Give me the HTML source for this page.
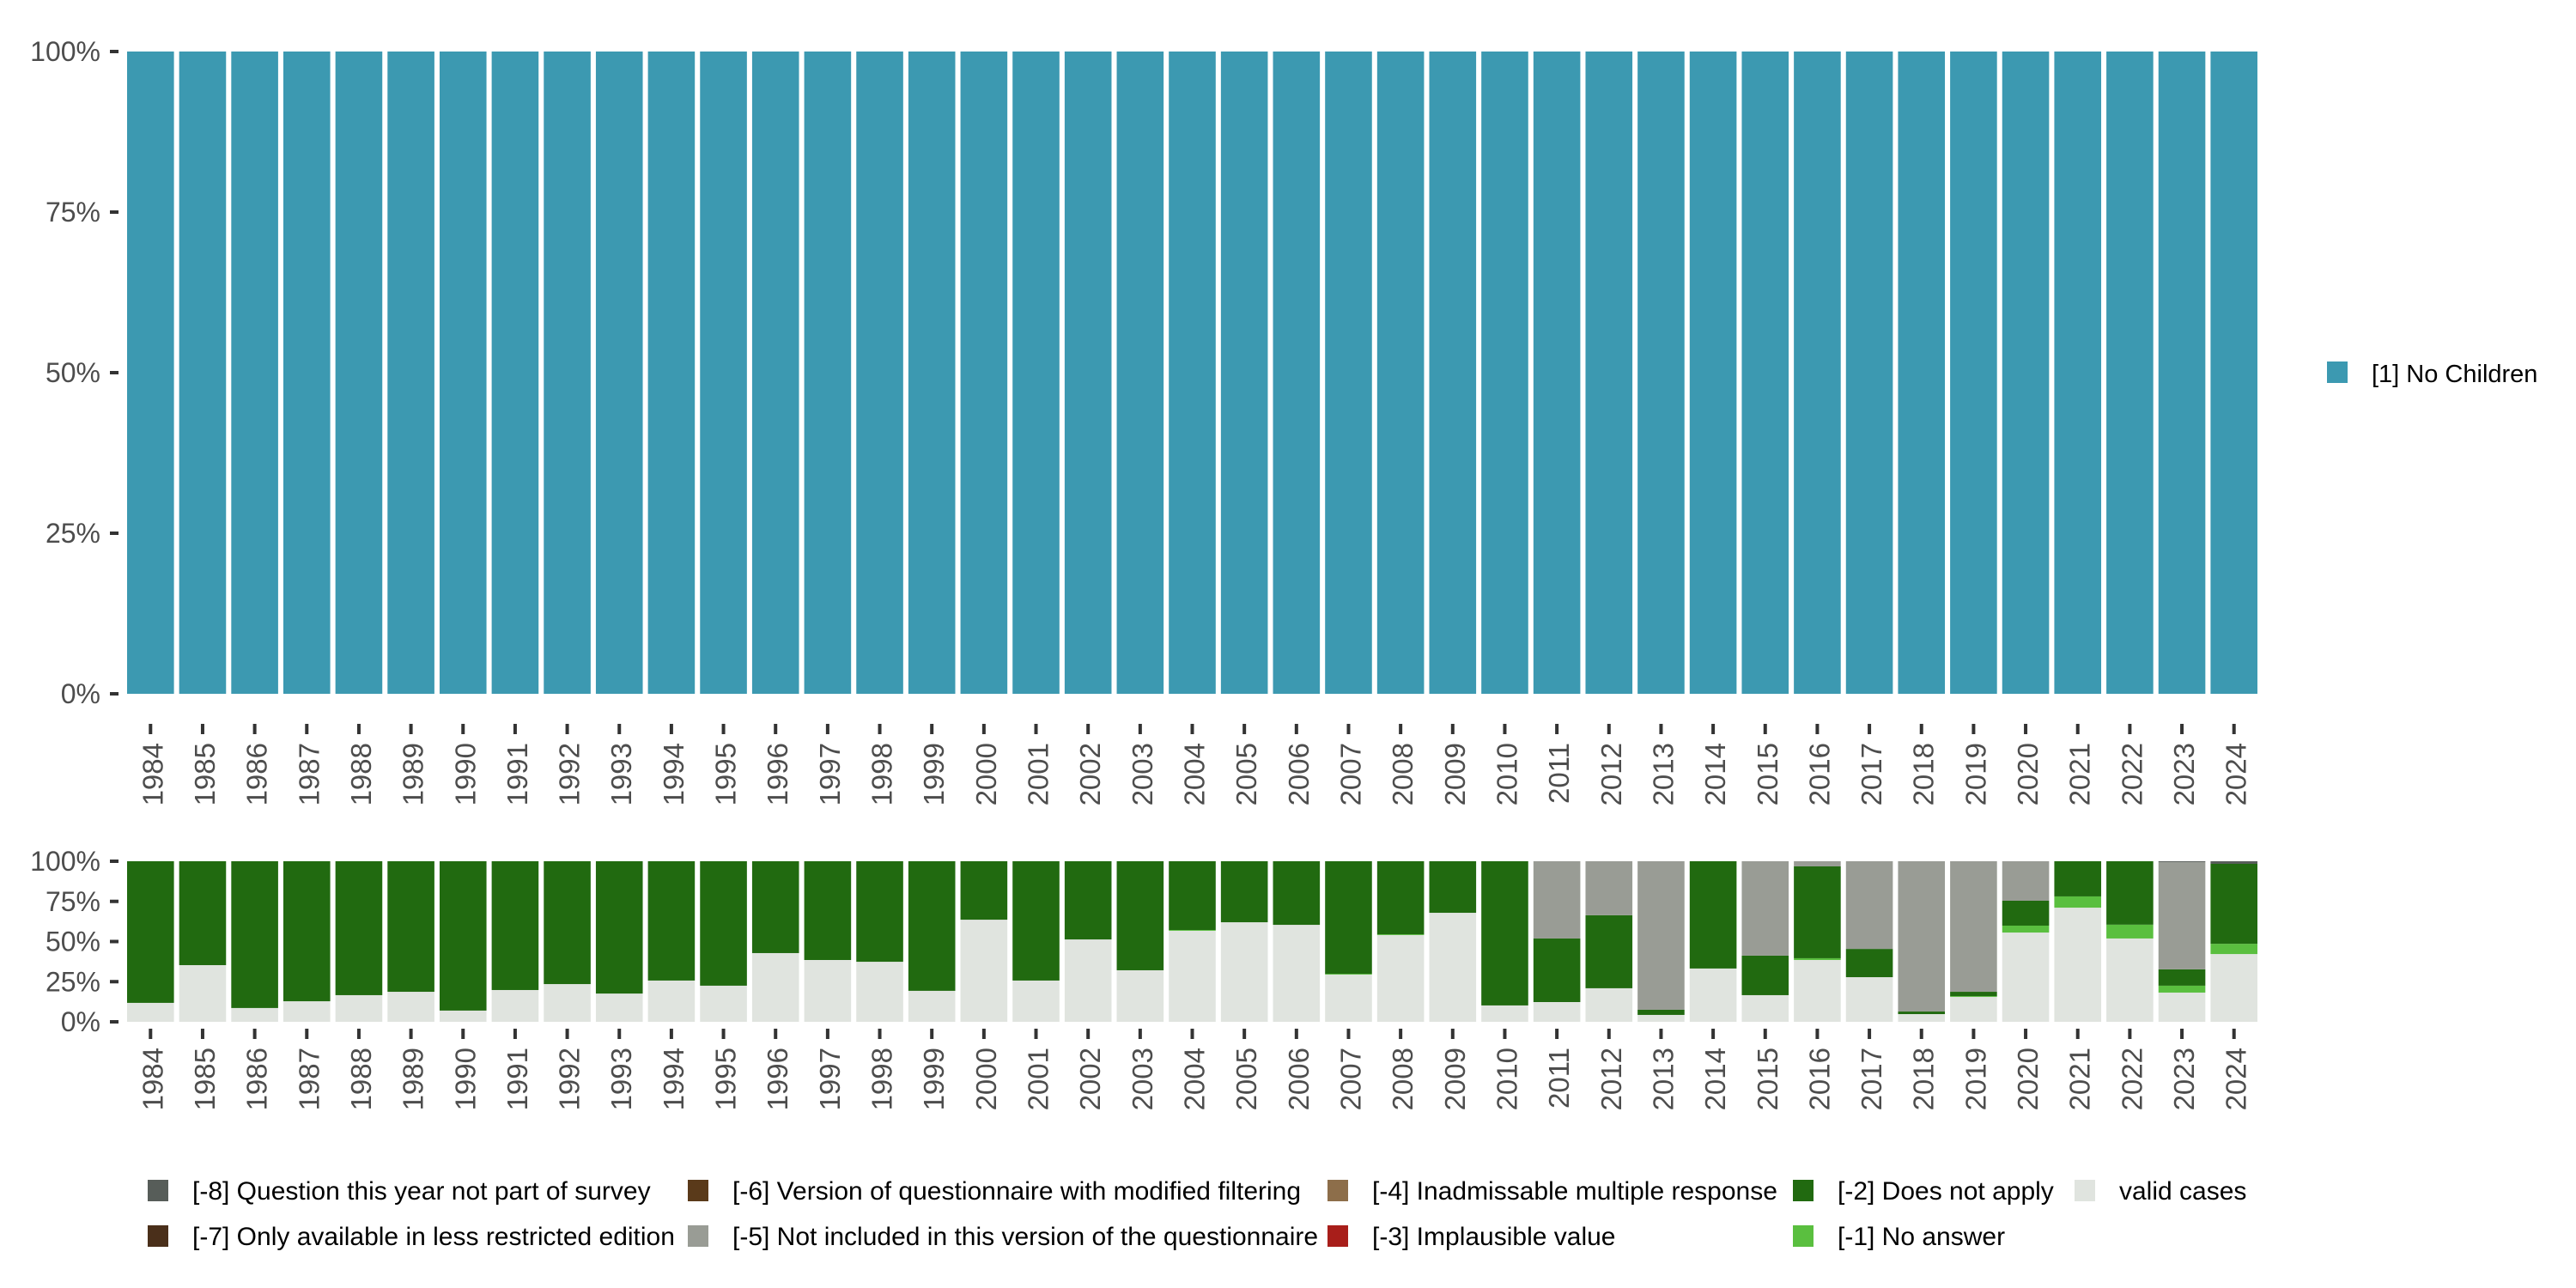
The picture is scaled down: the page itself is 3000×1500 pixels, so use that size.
<!DOCTYPE html>
<html><head><meta charset="utf-8"><style>
html,body{margin:0;padding:0;background:#fff;}
svg{display:block;font-family:"Liberation Sans",sans-serif;}
</style></head><body>
<svg id="chart" width="3000" height="1500" viewBox="0 0 3000 1500" xmlns="http://www.w3.org/2000/svg">
<g id="top"></g>
<g id="bot"></g>
<g>
<rect x="2710" y="421" width="24" height="25" fill="#3c99b1"/>
<text x="2762" y="445" font-size="29" fill="#000">[1] No Children</text>
</g>
<g id="legend"></g>
</svg>
<script>
const years = [1984,1985,1986,1987,1988,1989,1990,1991,1992,1993,1994,1995,1996,1997,1998,1999,2000,2001,2002,2003,2004,2005,2006,2007,2008,2009,2010,2011,2012,2013,2014,2015,2016,2017,2018,2019,2020,2021,2022,2023,2024];
const noChildren = [1,1,1,1,1,1,1,1,1,1,1,1,1,1,1,1,1,1,1,1,1,1,1,1,1,1,1,1,1,1,1,1,1,1,1,1,1,1,1,1,1];
const validCases = [0.118,0.353,0.086,0.128,0.166,0.187,0.07,0.198,0.235,0.176,0.257,0.225,0.428,0.385,0.374,0.193,0.636,0.257,0.513,0.321,0.567,0.620,0.604,0.294,0.540,0.679,0.102,0.123,0.209,0.043,0.332,0.166,0.385,0.278,0.048,0.155,0.556,0.711,0.519,0.182,0.422];
const noAnswer = [0,0,0,0,0,0,0,0,0,0,0,0,0,0,0,0,0,0,0,0,0.005,0,0,0.005,0.005,0,0,0,0,0,0,0,0.011,0,0,0.005,0.043,0.070,0.086,0.043,0.064];
const doesNotApply = [0.882,0.647,0.914,0.872,0.834,0.813,0.930,0.802,0.765,0.824,0.743,0.775,0.572,0.615,0.626,0.807,0.364,0.743,0.487,0.679,0.428,0.380,0.396,0.701,0.455,0.321,0.898,0.396,0.455,0.032,0.668,0.246,0.572,0.176,0.016,0.027,0.155,0.219,0.395,0.102,0.498];
const notIncluded = [0,0,0,0,0,0,0,0,0,0,0,0,0,0,0,0,0,0,0,0,0,0,0,0,0,0,0,0.481,0.336,0.925,0,0.588,0.032,0.546,0.936,0.813,0.246,0,0,0.668,0];
const notPartOfSurvey = [0,0,0,0,0,0,0,0,0,0,0,0,0,0,0,0,0,0,0,0,0,0,0,0,0,0,0,0,0,0,0,0,0,0,0,0,0,0,0,0.005,0.016];
const yTicks = [0,0.25,0.5,0.75,1];
const yTickLabels = ["0%","25%","50%","75%","100%"];

const NS="http://www.w3.org/2000/svg";
function mk(tag,attrs,parent){const e=document.createElementNS(NS,tag);for(const k in attrs)e.setAttribute(k,attrs[k]);parent.appendChild(e);return e;}
const pitch=(2629-148)/40.9, bw=pitch*0.9;
function xc(i){return 148+bw/2+i*pitch;}

function panel(g,y0,y1,tickY,stacks,name){
  const ys=v=>y1-(y1-y0)*v;
  yTicks.forEach((t,k)=>{
    const tk=mk('rect',{x:128,y:ys(t)-2,width:10,height:4,fill:'#333'},g);
    
    
    const tl=mk('text',{x:117,y:ys(t)+11,'text-anchor':'end','font-size':32,fill:'#4d4d4d'},g);
    tl.textContent=yTickLabels[k];
    
    
  });
  years.forEach((yr,i)=>{
    let acc=0;
    stacks.forEach(s=>{
      const v=s.data[i]; if(!v) return;
      const r=mk('rect',{x:xc(i)-bw/2,y:ys(Math.min(1,acc+v)),width:bw,height:ys(acc)-ys(Math.min(1,acc+v)),fill:s.color},g);
      
      
      acc+=v;
    });
    const tk=mk('rect',{x:xc(i)-2,y:tickY,width:4,height:12,fill:'#333'},g);
    
    
    const tx=xc(i)+14, ty=tickY+22;
    const tl=mk('text',{x:tx,y:ty,'text-anchor':'end','font-size':33,fill:'#4d4d4d',transform:`rotate(-90 ${tx} ${ty})`},g);
    tl.textContent=yr;
    
    
  });
}
panel(document.getElementById('top'),60,808,843,[{key:'no-children',data:noChildren,color:'#3c99b1'}],'top');
panel(document.getElementById('bot'),1003,1190,1198,[
  {key:'valid',data:validCases,color:'#e0e4df'},
  {key:'no-answer',data:noAnswer,color:'#5abf3f'},
  {key:'does-not-apply',data:doesNotApply,color:'#216a10'},
  {key:'not-included',data:notIncluded,color:'#999c95'},
  {key:'not-part-of-survey',data:notPartOfSurvey,color:'#575d59'}
],'bottom');

const legendLabels=["[-8] Question this year not part of survey","[-7] Only available in less restricted edition","[-6] Version of questionnaire with modified filtering","[-5] Not included in this version of the questionnaire","[-4] Inadmissable multiple response","[-3] Implausible value","[-2] Does not apply","[-1] No answer","valid cases"];
const legendColors=["#575d59","#4a2f1a","#5a3a1a","#999c95","#8d6e4a","#a81e1a","#216a10","#5abf3f","#e0e4df"];
const colX=[172,801,1546,2088,2416], rowY=[1374,1427];
const lg=document.getElementById('legend');
legendLabels.forEach((lab,k)=>{
  const c=Math.floor(k/2), r=k%2;
  const sw=mk('rect',{x:colX[c],y:rowY[r],width:24,height:25,fill:legendColors[k]},lg);
  
  
  const t=mk('text',{x:colX[c]+52,y:rowY[r]+23,'font-size':30,fill:'#000'},lg);
  t.textContent=lab;
  
  
});
</script>
</body></html>
